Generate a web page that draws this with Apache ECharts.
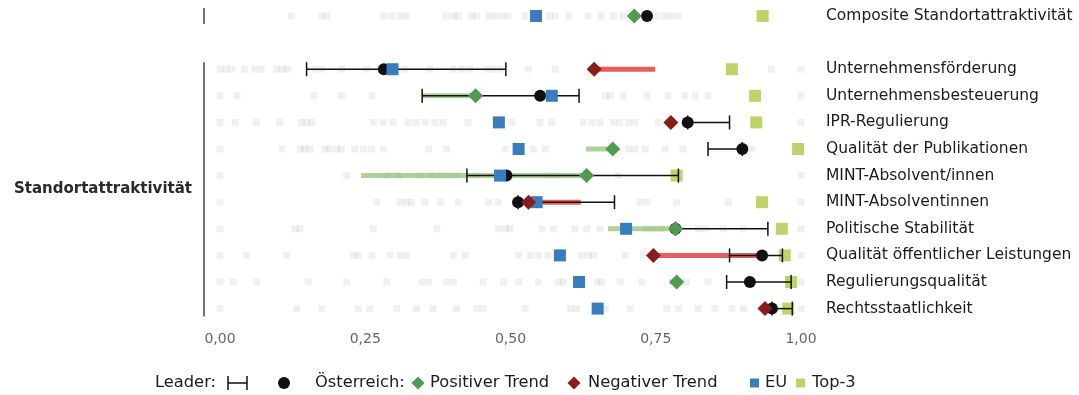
<!DOCTYPE html>
<html>
<head>
<meta charset="utf-8">
<script src="https://cdn.jsdelivr.net/npm/echarts@6/dist/echarts.min.js"></script>
<style>
html,body{margin:0;padding:0;background:#fff;}
#chart{width:1079px;height:395px;}
</style>
</head>
<body>
<div id="chart"></div>
<script>
// ---- data ----
const categories = ['Composite Standortattraktivität', '', 'Unternehmensförderung', 'Unternehmensbesteuerung', 'IPR-Regulierung', 'Qualität der Publikationen', 'MINT-Absolvent/innen', 'MINT-Absolventinnen', 'Politische Stabilität', 'Qualität öffentlicher Leistungen', 'Regulierungsqualität', 'Rechtsstaatlichkeit'];
const groupLabel = 'Standortattraktivität';
const tickValues = [0, 0.25, 0.5, 0.75, 1];

const leaderLow   = [null, null, 0.149, 0.348, 0.805, 0.840, 0.425, 0.513, 0.784, 0.877, 0.872, 0.950];
const leaderHigh  = [null, null, 0.492, 0.618, 0.877, 0.899, 0.789, 0.679, 0.943, 0.968, 0.983, 0.985];
const leaderValue = [0.735, null, 0.282, 0.551, 0.805, 0.899, 0.493, 0.513, 0.784, 0.933, 0.912, 0.950];
const austriaNow  = [0.713, null, 0.644, 0.440, 0.776, 0.676, 0.631, 0.531, 0.784, 0.746, 0.786, 0.938];
const austriaPrev = [0.705, null, 0.749, 0.348, 0.782, 0.630, 0.243, 0.621, 0.668, 0.932, 0.774, 0.945];
const euValue     = [0.544, null, 0.297, 0.571, 0.480, 0.514, 0.482, 0.545, 0.699, 0.585, 0.618, 0.650];
const top3Value   = [0.934, null, 0.881, 0.921, 0.923, 0.995, 0.786, 0.933, 0.967, 0.972, 0.983, 0.978];

// other countries (faint squares), one array per row
const othersComposite = [0.123, 0.175, 0.184, 0.281, 0.295, 0.310, 0.321, 0.389, 0.402, 0.410, 0.433, 0.442, 0.462, 0.473, 0.485, 0.496, 0.525, 0.567, 0.577, 0.600, 0.634, 0.656, 0.677, 0.694, 0.752, 0.766, 0.777, 0.789];
const othersFoerderung = [0, 0.010, 0.020, 0.042, 0.060, 0.071, 0.097, 0.107, 0.116, 0.163, 0.175, 0.209, 0.252, 0.318, 0.361, 0.401, 0.416, 0.430, 0.459, 0.470, 0.482, 0.531, 0.577, 0.949, 1.0];
const othersBesteuerung = [0, 0.029, 0.161, 0.209, 0.261, 0.663, 0.672, 0.694, 0.735, 0.771, 0.800, 0.818, 0.840, 1.0];
const othersIPR = [0, 0.026, 0.063, 0.103, 0.140, 0.149, 0.158, 0.264, 0.281, 0.298, 0.324, 0.338, 0.353, 0.370, 0.384, 0.427, 0.502, 0.551, 0.571, 0.625, 0.640, 0.654, 0.677, 0.688, 0.703, 0.714, 0.754, 1.0];
const othersPublikationen = [0, 0.107, 0.138, 0.146, 0.155, 0.181, 0.189, 0.201, 0.209, 0.232, 0.247, 0.261, 0.281, 0.359, 0.390, 0.491, 0.539, 0.560, 0.703, 0.714, 0.732, 0.766, 0.797, 0.915];
const othersMintAll = [0, 0.218, 0.287, 0.307, 0.344, 0.364, 0.379, 0.393, 0.407, 0.439, 0.565, 0.577, 0.686, 1.0];
const othersMintW = [0, 0.270, 0.310, 0.321, 0.330, 0.353, 0.379, 0.410, 0.462, 0.479, 0.723, 0.735, 0.786, 0.875, 1.0];
const othersStabilitaet = [0, 0.129, 0.138, 0.264, 0.373, 0.479, 0.491, 0.499, 0.554, 0.574, 0.611, 0.631, 0.654, 0.734, 0.746, 0.760, 0.823, 0.835, 0.866, 0.901, 1.0];
const othersLeistungen = [0, 0.046, 0.115, 0.229, 0.238, 0.261, 0.293, 0.310, 0.321, 0.402, 0.422, 0.514, 0.534, 0.548, 0.565, 0.622, 0.634, 0.643, 0.697, 0.729, 1.0];
const othersRegulierung = [0, 0.023, 0.063, 0.152, 0.218, 0.287, 0.347, 0.359, 0.390, 0.402, 0.453, 0.488, 0.514, 0.548, 0.582, 0.591, 0.649, 0.657, 0.689, 0.726, 0.792, 0.803, 0.840, 1.0];
const othersRecht = [0, 0.132, 0.175, 0.238, 0.258, 0.304, 0.338, 0.367, 0.407, 0.442, 0.453, 0.525, 0.603, 0.614, 0.663, 0.706, 0.769, 0.789, 0.823, 0.852, 0.881, 0.901, 1.0];
const othersByRow = [othersComposite, [], othersFoerderung, othersBesteuerung, othersIPR, othersPublikationen, othersMintAll, othersMintW, othersStabilitaet, othersLeistungen, othersRegulierung, othersRecht];

// ---- styles ----
const FONT = 'DejaVu Sans';
const C = {
  grey: 'rgba(0,0,0,0.06)', eu: '#3a7dbe', top3: '#bdd46a',
  pos: '#4f9b4f', neg: '#8b1c1c',
  posLine: 'rgba(120,180,80,0.6)', negLine: 'rgba(222,40,40,0.75)',
  dot: '#111', text: '#1c1c1c', tick: '#666'
};

function pts(arr) {
  const out = [];
  arr.forEach((v, i) => { if (v !== null && v !== undefined) out.push([v, i]); });
  return out;
}
const greyData = [];
othersByRow.forEach((row, i) => row.forEach(v => greyData.push([v, i])));
const leaderData = [];
leaderLow.forEach((lo, i) => { if (lo !== null && leaderHigh[i] !== null) leaderData.push([lo, leaderHigh[i], i]); });
const trendData = [];
austriaNow.forEach((v, i) => { if (v !== null) trendData.push([austriaPrev[i], v, i]); });
const posData = [], negData = [];
austriaNow.forEach((v, i) => {
  if (v === null) return;
  (v >= austriaPrev[i] ? posData : negData).push([v, i]);
});

const chart = echarts.init(document.getElementById('chart'), null, {renderer: 'canvas'});
const sc = (name, z, symbol, size, color, data) => ({
  name: name, type: 'scatter', z: z, symbol: symbol, symbolSize: size,
  itemStyle: {color: color, opacity: 1}, emphasis: {disabled: true}, data: data
});
const option = {
  animation: false,
  backgroundColor: '#fff',
  grid: {left: 220, top: 2.7, width: 581, height: 319.2},
  xAxis: {
    type: 'value', min: 0, max: 1, interval: 0.25,
    axisLine: {show: false}, axisTick: {show: false}, splitLine: {show: false},
    axisLabel: {
      margin: 10, color: C.tick, fontFamily: FONT, fontSize: 14,
      formatter: v => v.toFixed(2).replace('.', ',')
    }
  },
  yAxis: {
    type: 'category', data: categories, inverse: true, position: 'right',
    axisLine: {show: false}, axisTick: {show: false}, splitLine: {show: false},
    axisLabel: {margin: 25, align: 'left', color: C.text, fontFamily: FONT, fontSize: 15.5}
  },
  series: [
    sc('others', 1, 'rect', 7, C.grey, greyData),
    sc('Top-3', 2, 'rect', 12, C.top3, pts(top3Value)),
    {
      name: 'trend', type: 'custom', z: 3, data: trendData,
      renderItem: (params, api) => {
        const a = api.coord([api.value(0), api.value(2)]);
        const b = api.coord([api.value(1), api.value(2)]);
        const pos = api.value(1) >= api.value(0);
        return {type: 'line', shape: {x1: a[0], y1: a[1], x2: b[0], y2: b[1]},
          style: {stroke: pos ? C.posLine : C.negLine, lineWidth: 5}};
      }
    },
    {
      name: 'Leader', type: 'custom', z: 4, data: leaderData,
      renderItem: (params, api) => {
        const a = api.coord([api.value(0), api.value(2)]);
        const b = api.coord([api.value(1), api.value(2)]);
        const h = 7;
        const st = {stroke: '#111', lineWidth: 1.5};
        return {type: 'group', children: [
          {type: 'line', shape: {x1: a[0], y1: a[1], x2: b[0], y2: b[1]}, style: st},
          {type: 'line', shape: {x1: a[0], y1: a[1] - h, x2: a[0], y2: a[1] + h}, style: st},
          {type: 'line', shape: {x1: b[0], y1: b[1] - h, x2: b[0], y2: b[1] + h}, style: st}
        ]};
      }
    },
    sc('Leader-Wert', 5, 'circle', 12, C.dot, pts(leaderValue)),
    sc('EU', 6, 'rect', 12, C.eu, pts(euValue)),
    sc('Positiver Trend', 7, 'diamond', 15, C.pos, posData),
    sc('Negativer Trend', 7, 'diamond', 15, C.neg, negData)
  ]
};
chart.setOption(option);

// ---- decorations: row bracket lines, group label, legend ----
function py(i) { return chart.convertToPixel({gridIndex: 0}, [0, i])[1]; }
const x0 = chart.convertToPixel({gridIndex: 0}, [0, 0])[0];
const bx = x0 - 16;
const lineStyle = {stroke: '#444', lineWidth: 1.5};
const graphics = [
  {type: 'line', shape: {x1: bx, y1: py(0) - 8, x2: bx, y2: py(0) + 8}, style: lineStyle},
  {type: 'line', shape: {x1: bx, y1: py(2) - 7, x2: bx, y2: py(11) + 8}, style: lineStyle},
  {type: 'text', x: bx - 12, y: (py(2) + py(11)) / 2,
    style: {text: groupLabel, font: 'bold 15px "' + FONT + '"', fill: '#2a2a2a', align: 'right', verticalAlign: 'middle'}}
];
const ly = 383;
const lfont = '16.3px "' + FONT + '"';
const lt = (x, t) => ({type: 'text', x: x, y: ly, style: {text: t, font: lfont, fill: C.text, verticalAlign: 'middle'}});
graphics.push(
  lt(155, 'Leader:'),
  {type: 'line', shape: {x1: 228, y1: ly, x2: 247, y2: ly}, style: {stroke: '#111', lineWidth: 1.5}},
  {type: 'line', shape: {x1: 228, y1: ly - 7, x2: 228, y2: ly + 7}, style: {stroke: '#111', lineWidth: 1.5}},
  {type: 'line', shape: {x1: 247, y1: ly - 7, x2: 247, y2: ly + 7}, style: {stroke: '#111', lineWidth: 1.5}},
  {type: 'circle', shape: {cx: 284, cy: ly, r: 6}, style: {fill: C.dot}},
  lt(315, 'Österreich:'),
  {type: 'polygon', shape: {points: [[418, ly - 6.5], [424.5, ly], [418, ly + 6.5], [411.5, ly]]}, style: {fill: C.pos}},
  lt(430, 'Positiver Trend'),
  {type: 'polygon', shape: {points: [[574, ly - 6.5], [580.5, ly], [574, ly + 6.5], [567.5, ly]]}, style: {fill: C.neg}},
  lt(588, 'Negativer Trend'),
  {type: 'rect', shape: {x: 750, y: ly - 4.5, width: 9, height: 9}, style: {fill: C.eu}},
  lt(765, 'EU'),
  {type: 'rect', shape: {x: 796, y: ly - 4.5, width: 9, height: 9}, style: {fill: C.top3}},
  lt(812, 'Top-3')
);
chart.setOption({graphic: graphics});
</script>
</body>
</html>
